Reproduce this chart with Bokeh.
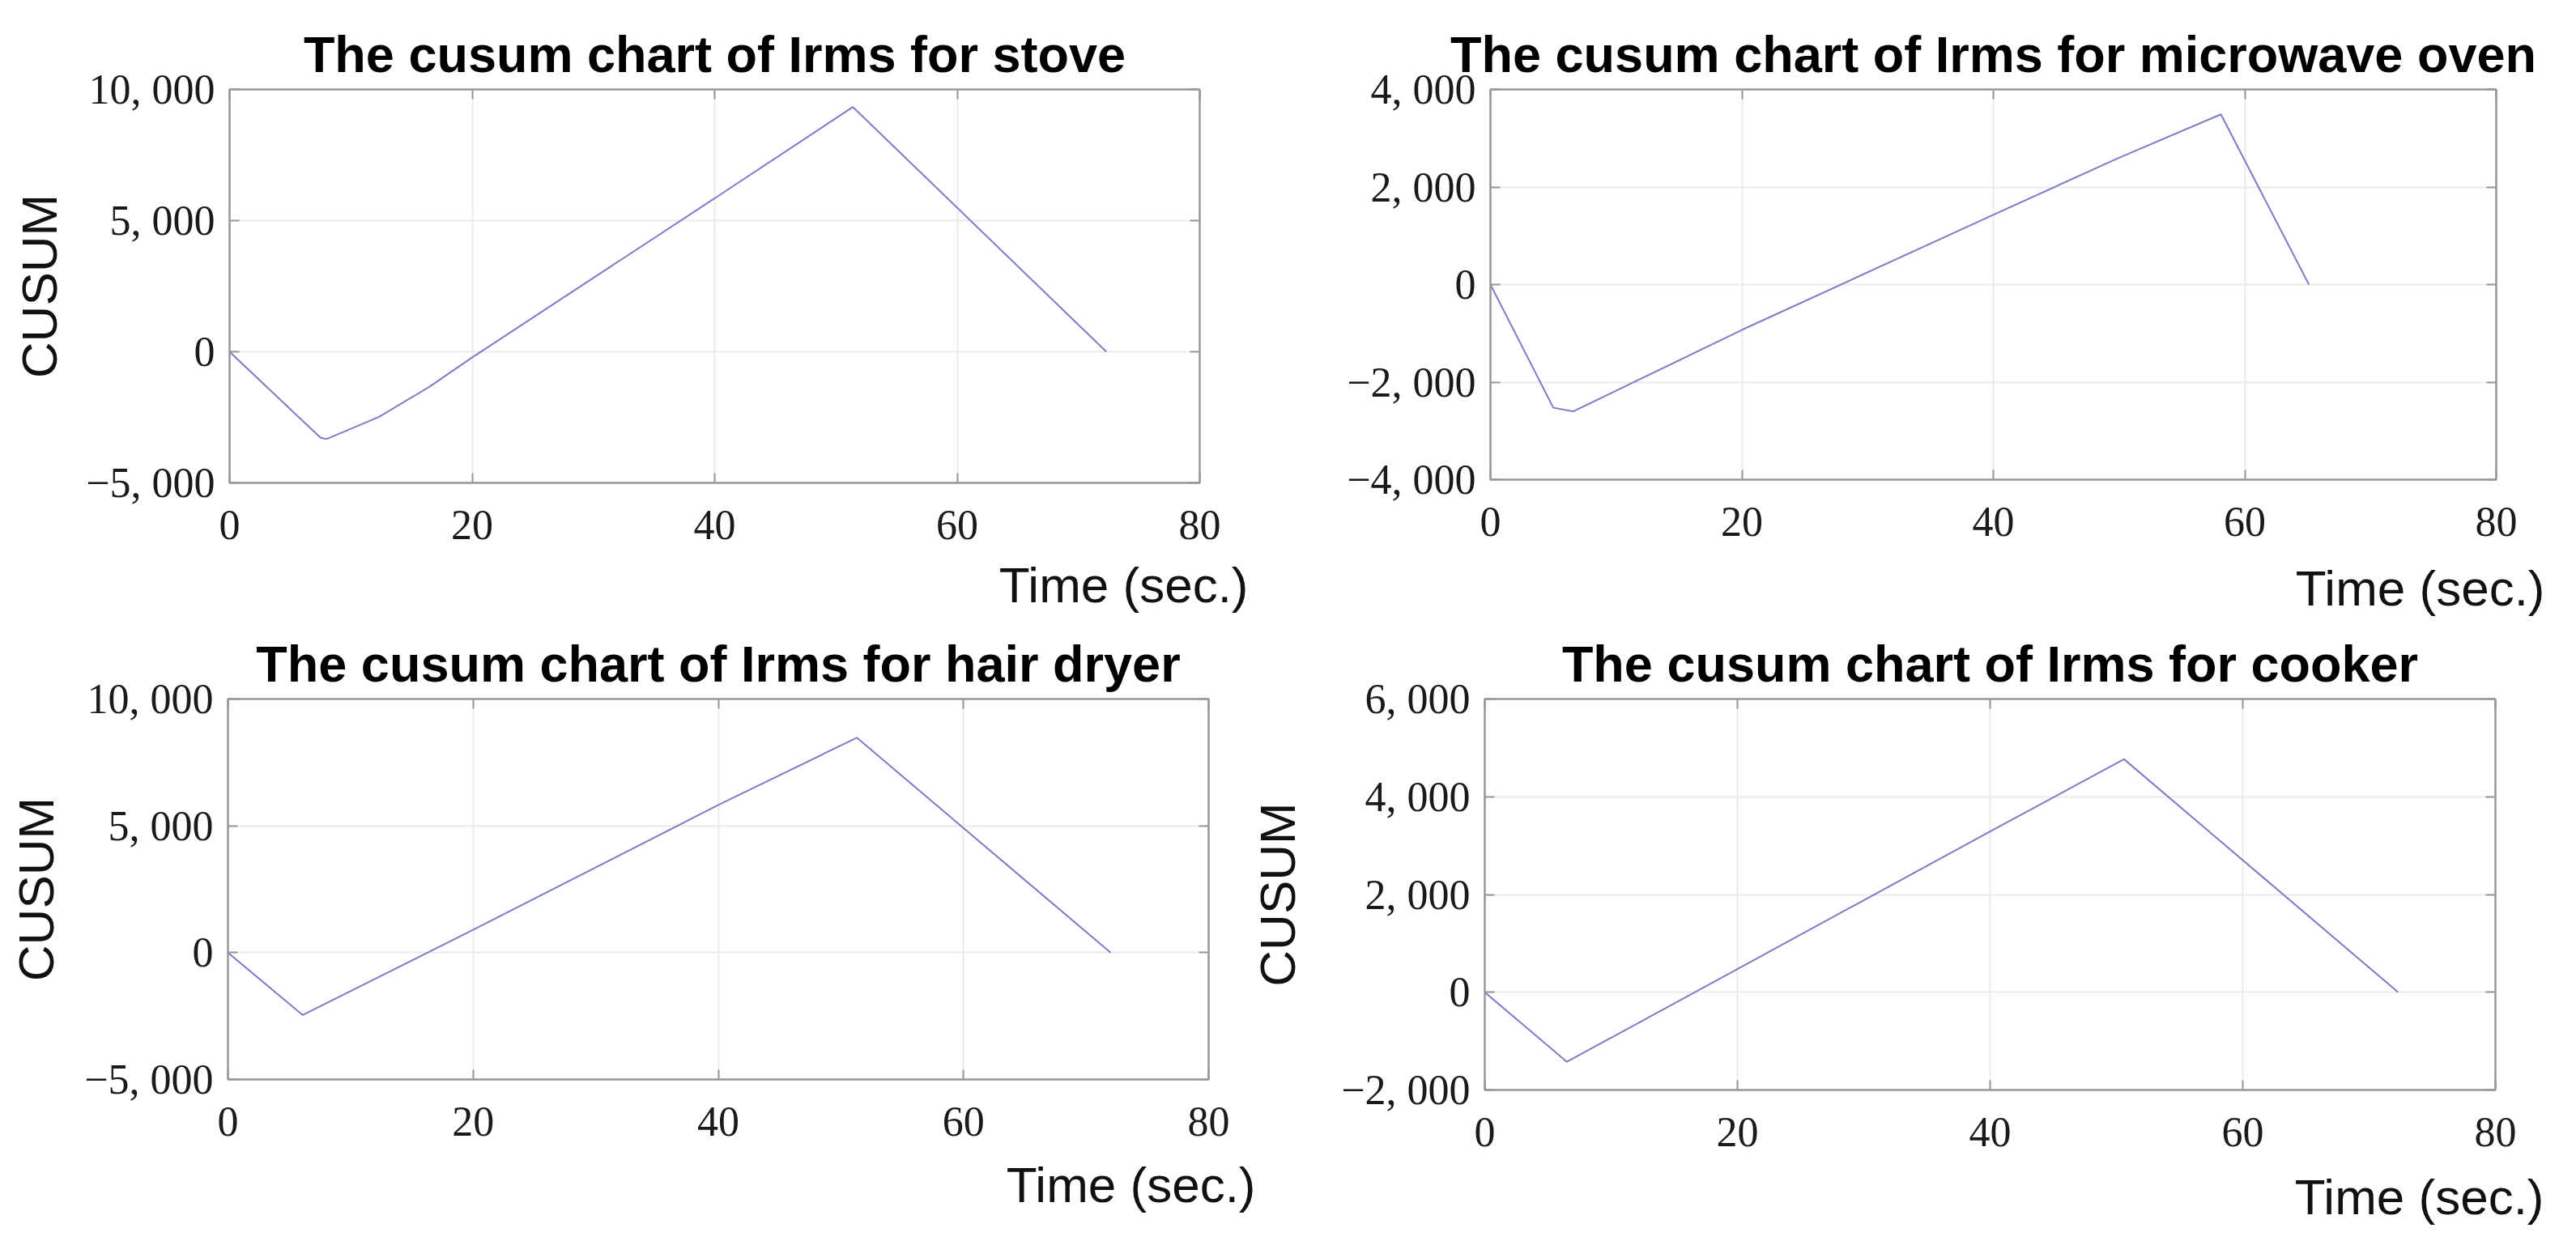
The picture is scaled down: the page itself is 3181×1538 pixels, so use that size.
from bokeh.plotting import figure
from bokeh.models import LinearAxis, FixedTicker, Range1d, Title, CustomLabelingPolicy
from bokeh.layouts import column, row
from bokeh.embed import file_html
from bokeh.resources import INLINE

# ---------------- data ----------------
x_ticks = [0, 20, 40, 60, 80]

stove_t = [0, 7.5, 8.0, 12.3, 16.4, 20.0, 40.0, 51.4, 72.3]
stove_c = [0, -3280, -3330, -2490, -1360, -220, 5850, 9330, 0]

micro_t = [0, 5.0, 6.6, 20.0, 40.0, 50.0, 58.1, 65.1]
micro_c = [0, -2525, -2600, -930, 1430, 2600, 3490, 0]

dryer_t = [0, 6.1, 20.0, 40.0, 51.3, 72.0]
dryer_c = [0, -2460, 900, 5820, 8475, 0]

cooker_t = [0, 6.5, 20.0, 40.0, 50.6, 72.3]
cooker_c = [0, -1424, 475, 3290, 4768, 0]

ticks_a = [-5000, 0, 5000, 10000]
labels_a = ["\u22125, 000", "0", "5, 000", "10, 000"]
ticks_b = [-4000, -2000, 0, 2000, 4000]
labels_b = ["\u22124, 000", "\u22122, 000", "0", "2, 000", "4, 000"]
ticks_c = [-2000, 0, 2000, 4000, 6000]
labels_c = ["\u22122, 000", "0", "2, 000", "4, 000", "6, 000"]

title_stove = "The cusum chart of Irms for stove"
title_micro = "The cusum chart of Irms for microwave oven"
title_dryer = "The cusum chart of Irms for hair dryer"
title_cooker = "The cusum chart of Irms for cooker"
x_label = "Time (sec.)"
y_label = "CUSUM"

# ---------------- styling ----------------
AX = "#979797"
GRID = "#ebebeb"
LINE = "#7c7cc8"
SANS = "Liberation Sans"
SERIF = "Liberation Serif"


def style_axis(ax, ticks, show_labels, overrides=None):
    ax.ticker = FixedTicker(ticks=ticks)
    ax.major_tick_in = 12
    ax.major_tick_out = 0
    ax.minor_tick_in = 0
    ax.minor_tick_out = 0
    ax.major_tick_line_color = AX
    ax.major_tick_line_width = 2
    ax.axis_line_color = AX
    ax.axis_line_width = 2
    if show_labels:
        ax.major_label_text_font = SERIF
        ax.major_label_text_font_size = "52px"
        ax.major_label_text_color = "#1a1a1a"
        if overrides is not None:
            ax.major_label_overrides = overrides
    else:
        ax.major_label_text_font_size = "1px"
        ax.major_label_standoff = 0
        ax.major_label_policy = CustomLabelingPolicy(code="return new Set()")


def panel(title, t, c, yticks, ylabels, fw, fh, bl, br, bt, bb,
          time_dx, time_standoff, cusum_standoff, show_cusum, margin=None):
    p = figure(frame_width=fw, frame_height=fh, x_range=Range1d(0, 80),
               y_range=Range1d(yticks[0], yticks[-1]),
               output_backend="svg", toolbar_location=None,
               min_border_left=bl, min_border_right=br,
               min_border_top=bt, min_border_bottom=bb,
               title=title)
    if margin is not None:
        p.margin = margin
    p.background_fill_color = "white"
    p.border_fill_color = None
    p.outline_line_color = AX
    p.outline_line_width = 2

    p.title.text_font = SANS
    p.title.text_font_style = "bold"
    p.title.text_font_size = "63px"
    p.title.align = "center"
    p.title.text_color = "black"
    p.title.standoff = 10

    style_axis(p.xaxis[0], x_ticks, True)
    p.xaxis[0].major_label_standoff = 34
    style_axis(p.yaxis[0], yticks, True,
               {v: s for v, s in zip(yticks, ylabels)})
    p.yaxis[0].major_label_standoff = 18
    if show_cusum:
        ya = p.yaxis[0]
        ya.axis_label = y_label
        ya.axis_label_text_font = SANS
        ya.axis_label_text_font_style = "normal"
        ya.axis_label_text_font_size = "62px"
        ya.axis_label_text_color = "#111111"
        ya.axis_label_standoff = cusum_standoff

    top = LinearAxis()
    style_axis(top, x_ticks, False)
    p.add_layout(top, "above")
    right = LinearAxis()
    style_axis(right, yticks, False)
    p.add_layout(right, "right")

    p.xgrid.ticker = FixedTicker(ticks=x_ticks)
    p.ygrid.ticker = FixedTicker(ticks=yticks)
    p.xgrid.grid_line_color = GRID
    p.ygrid.grid_line_color = GRID
    p.xgrid.grid_line_width = 2
    p.ygrid.grid_line_width = 2

    p.line(t, c, line_color=LINE, line_width=2)

    p.add_layout(Title(text=x_label, align="right", offset=-time_dx,
                       vertical_align="top",
                       standoff=time_standoff, text_font=SANS,
                       text_font_style="normal", text_font_size="62px",
                       text_color="#111111"), "below")
    return p


# top row canvases: ref y 8..901 ; bottom row canvases start at ref y 700
p1 = panel(title_stove, stove_t, stove_c, ticks_a, labels_a,
           1198, 486, 283, 71, 107, 300, 60, 38, 20, True)
p2 = panel(title_micro, micro_t, micro_c, ticks_b, labels_b,
           1242, 482, 288, 78, 110, 301, 60, 54, 41, False)
p3 = panel(title_dryer, dryer_t, dryer_c, ticks_a, labels_a,
           1211, 470, 281, 60, 168, 10, 58, 46, 22, True)
p4 = panel(title_cooker, cooker_t, cooker_c, ticks_c, labels_c,
           1248, 483, 292, 80, 171, 10, 60, 50, 41, True,
           margin=(0, 0, 0, -12))

top_row = row(p1, p2, spacing=0)
bottom_row = row(p3, p4, spacing=0, margin=(-201, 0, 0, 0))
layout = column(top_row, bottom_row, spacing=0)

open("out.html", "w").write(file_html(layout, INLINE))
